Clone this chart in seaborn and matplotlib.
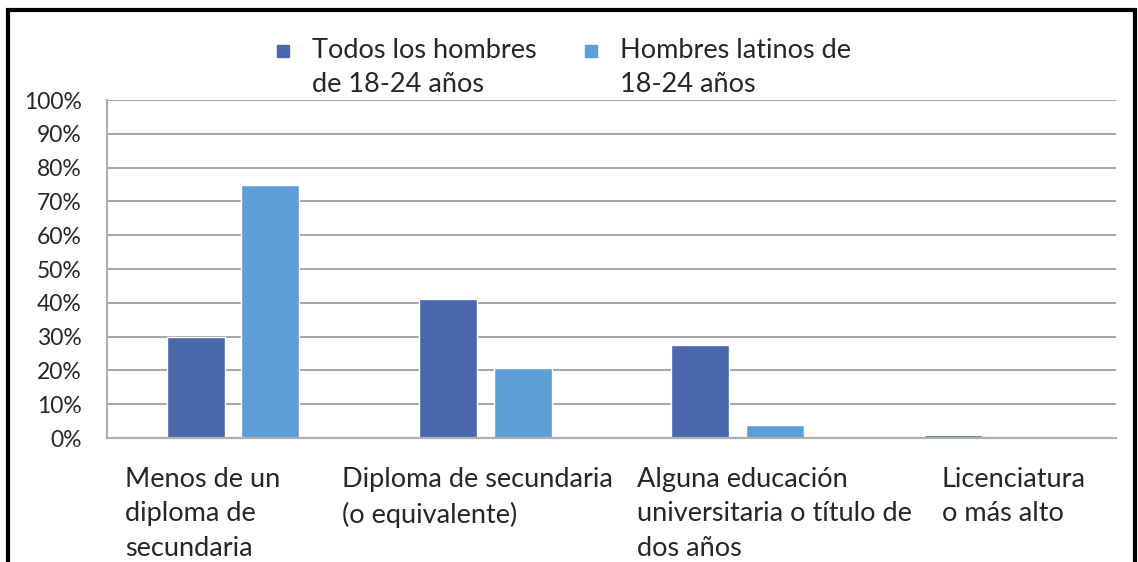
import matplotlib.pyplot as plt
import pandas as pd
import seaborn as sns
from matplotlib.legend_handler import HandlerLine2D
from matplotlib.lines import Line2D
from matplotlib.patches import Rectangle
from matplotlib.ticker import MultipleLocator, PercentFormatter

categories = [
    "Menos de un\ndiploma de\nsecundaria",
    "Diploma de secundaria\n(o equivalente)",
    "Alguna educación\nuniversitaria o título de\ndos años",
    "Licenciatura\no más alto",
]
series = ["Todos los hombres\nde 18-24 años", "Hombres latinos de\n18-24 años"]
todos = [30.0, 41.2, 27.6, 0.8]
latinos = [75.0, 20.8, 3.9, 0.0]
colors = ["#4A66AC", "#5E9ED6"]

df = pd.DataFrame({
    "cat": categories * 2,
    "serie": [series[0]] * 4 + [series[1]] * 4,
    "valor": todos + latinos,
})


class TopMarker(HandlerLine2D):
    # put the legend square next to the first text line
    def create_artists(self, legend, orig_handle, xdescent, ydescent, width,
                       height, fontsize, trans):
        arts = super().create_artists(legend, orig_handle, xdescent, ydescent,
                                      width, height, fontsize, trans)
        for a in arts:
            a.set_ydata([y + 0.62 * fontsize for y in a.get_ydata()])
        return arts


sns.set_style("white")
plt.rcParams["font.family"] = ["Lato", "DejaVu Sans"]

fig = plt.figure(figsize=(11.38, 5.62), dpi=100)
ax = fig.add_axes([0.094, 0.2206, 0.8867, 0.6014])

sns.barplot(data=df, x="cat", y="valor", hue="serie", palette=colors,
            width=0.59, gap=0.22, ax=ax, legend=False, saturation=1)

ax.set_ylim(0, 100)
ax.set_xlim(-0.5, 3.5)
ax.yaxis.set_major_locator(MultipleLocator(10))
ax.yaxis.set_major_formatter(PercentFormatter(decimals=0))
ax.grid(axis="y", color="#a6a6a6", linewidth=1.4)
ax.set_axisbelow(True)
for s in ["top", "right"]:
    ax.spines[s].set_visible(False)
for s in ["left", "bottom"]:
    ax.spines[s].set_color("#b0b0b0")
    ax.spines[s].set_linewidth(1.6)
ax.tick_params(axis="y", length=0, labelsize=16.5, pad=18)
ax.tick_params(axis="x", length=0)
ax.set_xticklabels([])
ax.set_xlabel("")
ax.set_ylabel("")

# left-aligned category labels below the axis
offsets = [-0.43, -0.57, -0.40, -0.19]
for i, (lab, off) in enumerate(zip(categories, offsets)):
    ax.text(i + off, -0.085, lab, transform=ax.get_xaxis_transform(),
            ha="left", va="top", fontsize=19.5, linespacing=1.48)

handles = [Line2D([], [], marker="s", linestyle="", markersize=8,
                  markerfacecolor=c, markeredgecolor=c) for c in colors]
fig.legend(handles, series, loc="upper center", bbox_to_anchor=(0.4935, 0.976),
           ncol=2, frameon=False, handletextpad=0.66,
           columnspacing=1.6, handlelength=0.8, labelspacing=0.2,
           handler_map={Line2D: TopMarker()},
           prop={"size": 19.5})
for t in fig.legends[0].get_texts():
    t.set_linespacing(1.45)

# outer black frame (bottom edge cut off)
fig.patches.append(Rectangle((0.007, -0.2), 0.9905, 1.183, transform=fig.transFigure,
                             fill=False, edgecolor="black", linewidth=3))

fig.savefig("out.png", dpi=100)
